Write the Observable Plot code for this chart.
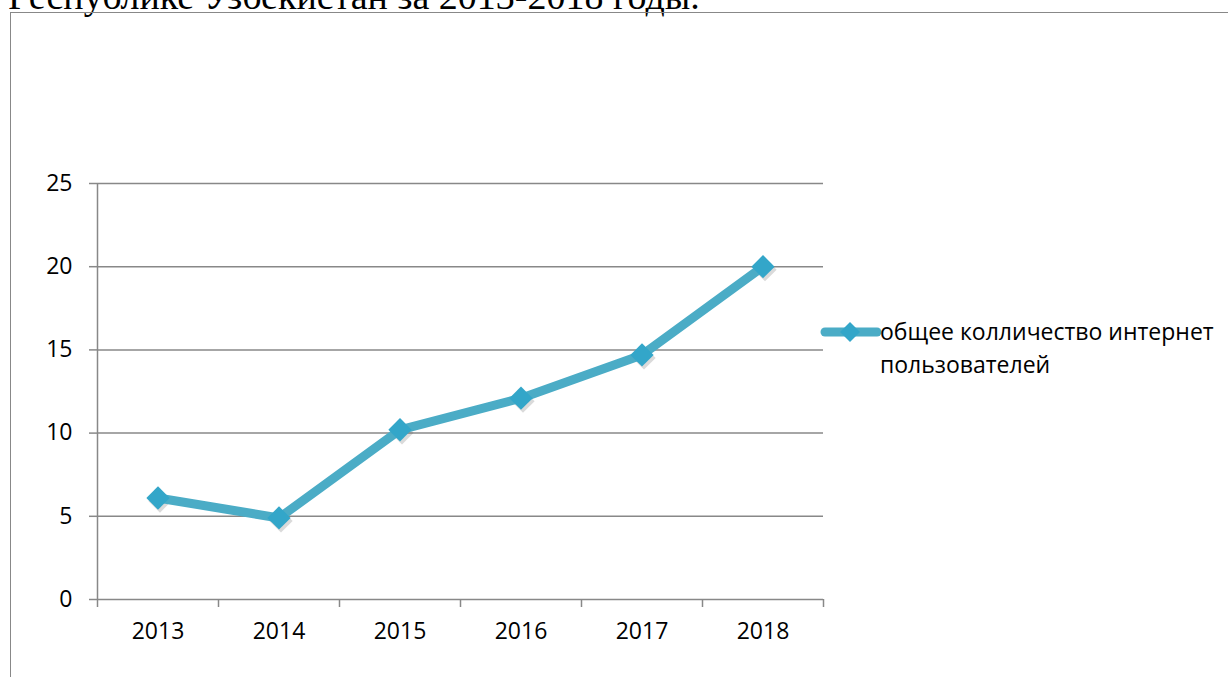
<!DOCTYPE html>
<html>
<head>
<meta charset="utf-8">
<script src="https://cdn.jsdelivr.net/npm/d3@7"></script>
<script src="https://cdn.jsdelivr.net/npm/@observablehq/plot@0.6"></script>
<style>
  html, body { margin: 0; padding: 0; background: #fff; overflow: hidden; }
  #page { position: relative; width: 1228px; height: 677px; overflow: hidden; }
  #title { position: absolute; left: 8px; top: -23px; font-family: "Liberation Serif", "DejaVu Serif", serif; font-size: 38px; line-height: 38px; white-space: nowrap; color: #000; }
  #box { position: absolute; left: 10px; top: 12px; width: 1240px; height: 720px; border: 1.5px solid #888; box-sizing: border-box; }
  #chart { position: absolute; left: 0; top: 0; }
  #legend { position: absolute; left: 820px; top: 315px; font-family: "Open Sans", sans-serif; font-size: 23px; color: #000; }
  #legend svg { position: absolute; left: 0; top: 4px; }
  #legend .txt { position: absolute; left: 60px; top: 0; width: 380px; line-height: 33px; white-space: nowrap; }
</style>
</head>
<body>
<div id="page">
  <div id="title">Республике Узбекистан за 2013-2018 годы.</div>
  <div id="box"></div>
  <div id="chart"></div>
  <div id="legend">
    <svg width="62" height="26"><line x1="5" y1="13" x2="57" y2="13" stroke="#4BACC6" stroke-width="9" stroke-linecap="round"/><path d="M30,3 L40,13 L30,23 L20,13 Z" fill="#33A6C9"/></svg>
    <div class="txt">общее колличество интернет<br>пользователей</div>
  </div>
</div>
<script>
const years = [2013, 2014, 2015, 2016, 2017, 2018];
const users = [6.1, 4.9, 10.2, 12.1, 14.7, 20.0];
const yTicks = [0, 5, 10, 15, 20, 25];
const seriesName = "общее колличество интернет пользователей";

const data = years.map((year, i) => ({year, value: users[i]}));
const edges = years.map(y => y - 0.5).concat([years[years.length - 1] + 0.5]);

const chart = Plot.plot({
  width: 1228,
  height: 677,
  marginLeft: 97,
  marginRight: 405,
  marginTop: 183,
  marginBottom: 78,
  style: {fontFamily: "'Open Sans', sans-serif", fontSize: "23px", background: "transparent", color: "#000"},
  x: {domain: [edges[0], edges[edges.length - 1]], axis: null},
  y: {domain: [0, 25], axis: null},
  marks: [
    Plot.gridY(yTicks, {stroke: "#888", strokeOpacity: 1, strokeWidth: 1.5}),
    Plot.axisY(yTicks, {tickSize: 8, tickPadding: 17, stroke: "#888", strokeWidth: 1.5, fill: "#000", label: null}),
    Plot.ruleX([edges[0]], {y1: 0, y2: 25, stroke: "#888", strokeWidth: 1.5}),
    Plot.axisX(edges, {tickSize: 8, tickFormat: () => "", stroke: "#888", strokeWidth: 1.5, label: null}),
    Plot.axisX(years, {tickSize: 0, tickPadding: 23, tickFormat: d => String(d), fill: "#000", label: null}),
    Plot.dot(data, {x: "year", y: "value", symbol: "diamond2", r: 10.5, fill: "#555", fillOpacity: 0.22, dx: 2, dy: 3}),
    Plot.line(data, {x: "year", y: "value", stroke: "#4BACC6", strokeWidth: 9, strokeLinejoin: "round", strokeLinecap: "round"}),
    Plot.dot(data, {x: "year", y: "value", symbol: "diamond2", r: 10.5, fill: "#33A6C9", title: d => `${seriesName}: ${d.year} — ${d.value}`})
  ]
});
document.getElementById("chart").appendChild(chart);
</script>
</body>
</html>
